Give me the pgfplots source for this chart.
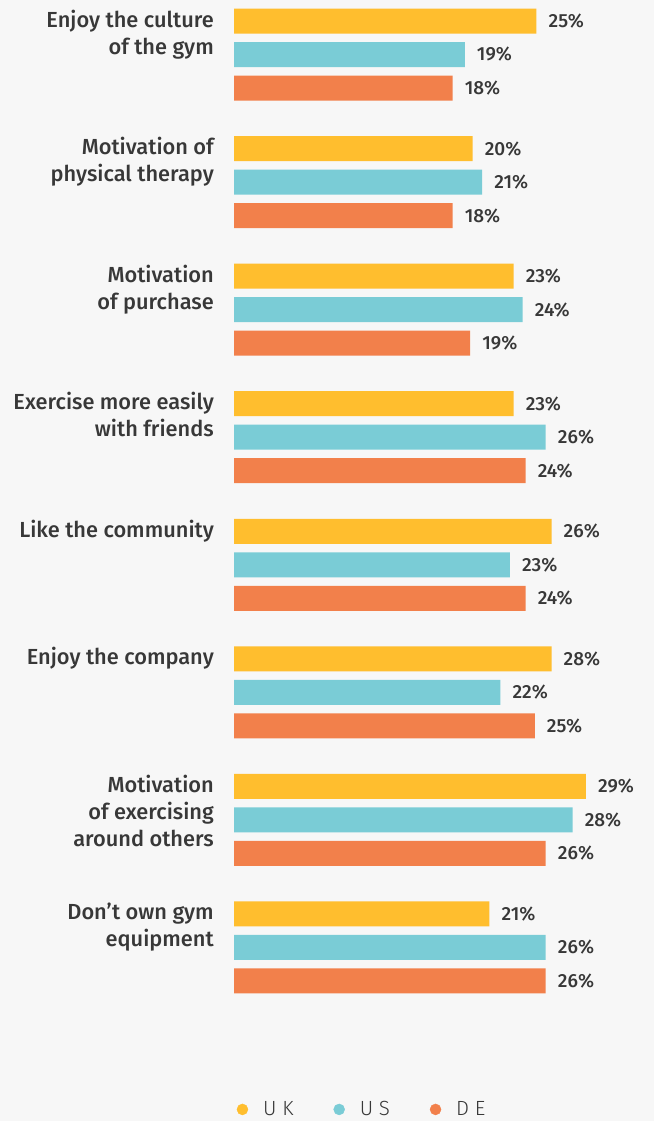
\documentclass[border=0pt]{standalone}
\usepackage{fontspec}
\setmainfont{Fira Sans}[BoldFont={* Medium}]
\newfontfamily\legfont{Fira Sans Light}[LetterSpace=28]
\usepackage{pgfplots}
\pgfplotsset{compat=1.18}
\definecolor{ukc}{HTML}{FFBE2E}
\definecolor{usc}{HTML}{7ACCD6}
\definecolor{dec}{HTML}{F2804B}
\definecolor{bgc}{HTML}{F7F7F7}
\definecolor{txt}{HTML}{383838}
\begin{document}
\begin{tikzpicture}
\fill[bgc] (0,0) rectangle (654pt,1121pt);
\begin{axis}[
  at={(234pt,122.5pt)}, anchor=south west,
  scale only axis, width=420pt, height=995pt,
  xmin=0, xmax=34.855, ymin=-0.4, ymax=7.4,
  xbar, bar width=25pt,
  hide x axis,
  axis y line=left, y axis line style={draw=none},
  ytick={0,...,7}, ytick style={draw=none}, major tick length=0pt,
  yticklabels={{Don’t own gym\\equipment},{Motivation\\of exercising\\around others},{Enjoy the company},{Like the community},{Exercise more easily\\with friends},{Motivation\\of purchase},{Motivation of\\physical therapy},{Enjoy the culture\\of the gym}},
  yticklabel style={font=\fontsize{21.8}{27}\selectfont\bfseries, text=txt, align=right, anchor=north east, inner sep=0pt, xshift=-20pt, yshift=45pt},
  clip=false,
  point meta=explicit symbolic,
  nodes near coords={\pgfplotspointmeta\%},
  every node near coord/.append style={font=\fontsize{19}{22}\selectfont\bfseries, text=txt, anchor=west, inner sep=0pt, xshift=12pt},
  legend style={at={(0.305,-0.1115)}, anchor=center, draw=none, fill=none, legend columns=3,
    font=\fontsize{20.5}{23}\selectfont\legfont, text=txt, inner sep=1pt,
    /tikz/every odd column/.append style={column sep=13pt},
    /tikz/every even column/.append style={column sep=38pt}},
]
\addplot[fill=ukc, draw=none, bar shift=33.5pt, forget plot] coordinates {(25.1,7)[25] (19.8,6)[20] (23.2,5)[23] (23.2,4)[23] (26.35,3)[26] (26.35,2)[28] (29.2,1)[29] (21.2,0)[21]};
\addplot[fill=usc, draw=none, bar shift=0pt, forget plot] coordinates {(19.15,7)[19] (20.6,6)[21] (23.96,5)[24] (25.87,4)[26] (22.9,3)[23] (22.1,2)[22] (28.1,1)[28] (25.87,0)[26]};
\addplot[fill=dec, draw=none, bar shift=-33.5pt, forget plot] coordinates {(18.15,7)[18] (18.15,6)[18] (19.6,5)[19] (24.2,4)[24] (24.2,3)[24] (24.96,2)[25] (25.87,1)[26] (25.87,0)[26]};
\addlegendimage{legend image code/.code={\fill[ukc] (0pt,0pt) circle (5.5pt);}}
\addlegendentry{UK}
\addlegendimage{legend image code/.code={\fill[usc] (0pt,0pt) circle (5.5pt);}}
\addlegendentry{US}
\addlegendimage{legend image code/.code={\fill[dec] (0pt,0pt) circle (5.5pt);}}
\addlegendentry{DE}
\end{axis}
\pgfresetboundingbox
\path[use as bounding box] (0,0) rectangle (654pt,1121pt);
\end{tikzpicture}
\end{document}
